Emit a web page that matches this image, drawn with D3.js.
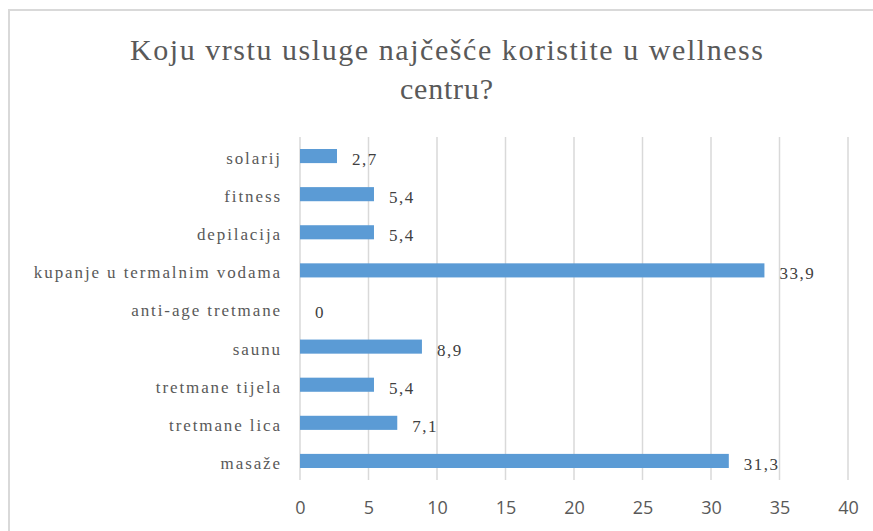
<!DOCTYPE html>
<html>
<head>
<meta charset="utf-8">
<script src="https://cdn.jsdelivr.net/npm/d3@7"></script>
<style>
  body { margin: 0; background: #fff; }
  .title { font-family: "Liberation Serif", "Times New Roman", serif; font-size: 30px; fill: #595959; }
  .cat { font-family: "Liberation Serif", "Times New Roman", serif; font-size: 17px; fill: #595959; letter-spacing: 1.9px; }
  .val { font-family: "Liberation Serif", "Times New Roman", serif; font-size: 17px; fill: #404040; letter-spacing: 1.5px; }
  .tick text { font-family: "Open Sans", "Liberation Sans", sans-serif; font-size: 18px; fill: #595959; }
</style>
</head>
<body>
<div id="chart"></div>
<script>
// chart data
const categories = ["solarij", "fitness", "depilacija", "kupanje u termalnim vodama", "anti-age tretmane",
                    "saunu", "tretmane tijela", "tretmane lica", "masaže"];
const values = [2.7, 5.4, 5.4, 33.9, 0, 8.9, 5.4, 7.1, 31.3];
const xTicks = [0, 5, 10, 15, 20, 25, 30, 35, 40];

const W = 873, H = 531;
const margin = { top: 137, right: 25, bottom: 51, left: 300 },
      width = 848 - margin.left,
      height = 480 - margin.top;

const svg = d3.select("#chart").append("svg")
    .attr("width", W)
    .attr("height", H);

// chart frame (only left + top visible in crop)
svg.append("path")
    .attr("d", `M9,${H} L9,10 L${W},10`)
    .attr("fill", "none")
    .attr("stroke", "#d9d9d9")
    .attr("stroke-width", 2);

// title, stretched like the original
svg.append("text")
    .attr("class", "title")
    .attr("x", 130).attr("y", 60)
    .attr("textLength", 633).attr("lengthAdjust", "spacing")
    .text("Koju vrstu usluge najčešće koristite u wellness");
svg.append("text")
    .attr("class", "title")
    .attr("x", 400).attr("y", 99)
    .attr("textLength", 93).attr("lengthAdjust", "spacing")
    .text("centru?");

const g = svg.append("g")
    .attr("transform", `translate(${margin.left},${margin.top})`);

const x = d3.scaleLinear().domain([0, 40]).range([0, width]);
const y = d3.scaleBand().domain(categories).range([0, height]).paddingInner(0.63).paddingOuter(0.315);

// gridlines
g.selectAll(".grid")
    .data(xTicks)
    .enter()
    .append("line")
    .attr("x1", d => x(d))
    .attr("x2", d => x(d))
    .attr("y1", 0)
    .attr("y2", height)
    .attr("stroke", "#d9d9d9")
    .attr("stroke-width", 1.5);

// x axis labels
const xAxis = g.append("g")
    .attr("transform", `translate(0,${height})`)
    .call(d3.axisBottom(x).tickValues(xTicks).tickSize(0).tickPadding(21));
xAxis.select(".domain").remove();

// category labels
g.selectAll(".cat")
    .data(categories)
    .enter()
    .append("text")
    .attr("class", "cat")
    .attr("text-anchor", "end")
    .attr("x", -18)
    .attr("y", d => y(d) + y.bandwidth() / 2)
    .attr("dy", "0.47em")
    .text(d => d);

// bars
g.selectAll(".bar")
    .data(values)
    .enter()
    .append("rect")
    .attr("class", "bar")
    .attr("x", 0)
    .attr("y", (d, i) => y(categories[i]))
    .attr("width", d => x(d))
    .attr("height", y.bandwidth())
    .attr("fill", "#5b9bd5");

// value labels
g.selectAll(".val")
    .data(values)
    .enter()
    .append("text")
    .attr("class", "val")
    .attr("x", d => x(d) + 15)
    .attr("y", (d, i) => y(categories[i]) + y.bandwidth() / 2)
    .attr("dy", "0.53em")
    .text(d => String(d).replace(".", ","));
</script>
</body>
</html>
